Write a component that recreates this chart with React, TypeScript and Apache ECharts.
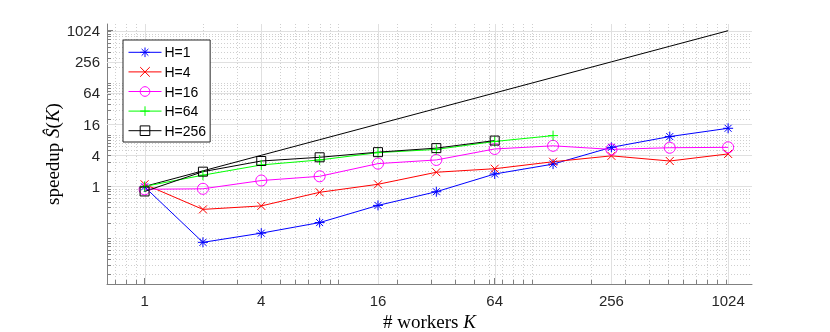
import React, { useEffect, useRef } from 'react';
import * as echarts from 'echarts';

// ---- data ----
const workers = [1, 2, 4, 8, 16, 32, 64, 128, 256, 512, 1024];
const seriesNames = ['H=1', 'H=4', 'H=16', 'H=64', 'H=256'];
const speedupH1 = [0.98, 0.083, 0.125, 0.2, 0.43, 0.79, 1.74, 2.7, 5.7, 9.2, 13.3];
const speedupH4 = [1.1, 0.36, 0.42, 0.77, 1.1, 1.88, 2.2, 3.0, 3.9, 3.1, 4.25];
const speedupH16 = [0.88, 0.9, 1.3, 1.57, 2.76, 3.25, 5.3, 6.1, 5.2, 5.6, 5.7];
const speedupH64 = [1.0, 1.65, 2.6, 3.25, 4.5, 5.2, 7.4, 9.6];
const speedupH256 = [0.8, 1.93, 3.1, 3.66, 4.6, 5.5, 7.7];
const idealSpeedup = [1, 2, 4, 8, 16, 32, 64, 128, 256, 512, 1024];

const xTickValues = [1, 4, 16, 64, 256, 1024];
const yTickValues = [1, 4, 16, 64, 256, 1024];
const xMinorValues = [
  0.7, 0.8, 0.9, 2, 3, 4, 5, 6, 7, 8, 9, 10, 20, 30, 40, 50, 60, 70, 80, 90,
  100, 200, 300, 400, 500, 600, 700, 800, 900, 1000,
];
const yMinorValues = [
  0.02, 0.03, 0.04, 0.05, 0.06, 0.07, 0.08, 0.09, 0.1, 0.2, 0.3, 0.4, 0.5, 0.6, 0.7,
  0.8, 0.9, 1, 2, 3, 4, 5, 6, 7, 8, 9, 10, 20, 30, 40, 50, 60, 70, 80, 90, 100, 200,
  300, 400, 500, 600, 700, 800, 900, 1000,
];
const xRange = [0.64, 1360];
const yRange = [0.013, 1380];

const colors = ['#0000ff', '#ff0000', '#ff00ff', '#00ff00', '#000000'];

const SYM_ASTERISK = 'path://M5 0L5 10M0 5L10 5M1.5 1.5L8.5 8.5M8.5 1.5L1.5 8.5';
const SYM_X = 'path://M0 0L10 10M10 0L0 10';
const SYM_PLUS = 'path://M5 0L5 10M0 5L10 5';
const symbols = [SYM_ASTERISK, SYM_X, 'circle', SYM_PLUS, 'rect'];
const symbolSizes = [10, 8, 11, 10, 9];
const allSpeedups = [speedupH1, speedupH4, speedupH16, speedupH64, speedupH256];

const L2 = (v: number) => Math.log2(v);
const AXIS_COLOR = '#808080';
const LABEL_COLOR = '#262626';
const SANS = 'Liberation Sans, Arial, sans-serif';
const SERIF = 'Liberation Serif, Times New Roman, serif';

const crisp = (v: number) => Math.round(v) + 0.5;

function gridLines(kind: 'v' | 'h', stroke: string, dash: number[] | null) {
  return (params: any, api: any) => {
    const cs = params.coordSys;
    if (kind === 'v') {
      const x = crisp(api.coord([api.value(0), api.value(1)])[0]);
      return {
        type: 'line',
        shape: { x1: x, y1: cs.y, x2: x, y2: cs.y + cs.height },
        style: { stroke, lineWidth: 1, lineDash: dash || undefined },
        silent: true,
      };
    }
    const y = crisp(api.coord([api.value(0), api.value(1)])[1]);
    return {
      type: 'line',
      shape: { x1: cs.x, y1: y, x2: cs.x + cs.width, y2: y },
      style: { stroke, lineWidth: 1, lineDash: dash || undefined },
      silent: true,
    };
  };
}

function minorTicks(kind: 'v' | 'h', len: number) {
  return (params: any, api: any) => {
    const cs = params.coordSys;
    if (kind === 'v') {
      const x = crisp(api.coord([api.value(0), api.value(1)])[0]);
      const yb = cs.y + cs.height;
      return {
        type: 'line',
        shape: { x1: x, y1: yb, x2: x, y2: yb - len },
        style: { stroke: AXIS_COLOR, lineWidth: 1 },
        silent: true,
      };
    }
    const y = crisp(api.coord([api.value(0), api.value(1)])[1]);
    return {
      type: 'line',
      shape: { x1: cs.x, y1: y, x2: cs.x + len, y2: y },
      style: { stroke: AXIS_COLOR, lineWidth: 1 },
      silent: true,
    };
  };
}

export default function App() {
  const ref = useRef<HTMLDivElement>(null);
  useEffect(() => {
    if (!ref.current) return;
    const chart = echarts.init(ref.current, null, { renderer: 'svg' });
    const xMin = L2(xRange[0]);
    const xMax = L2(xRange[1]);
    const yMin = L2(yRange[0]);
    const yMax = L2(yRange[1]);
    const fmt = (v: number) => String(Math.round(Math.pow(2, v)));

    const dataSeries = seriesNames.map((name, i) => ({
      name,
      type: 'line',
      data: allSpeedups[i].map((s, j) => [L2(workers[j]), L2(s)]),
      symbol: symbols[i],
      symbolSize: symbolSizes[i],
      showSymbol: true,
      lineStyle: { color: colors[i], width: 1 },
      itemStyle: { color: 'none', borderColor: colors[i], borderWidth: 1 },
      emphasis: { disabled: true },
      z: 3,
    }));

    const titleRich = {
      r: { fontFamily: SERIF, fontSize: 19, color: '#000' },
      i: { fontFamily: SERIF, fontSize: 19, fontStyle: 'italic', color: '#000' },
    };

    const option: any = {
      animation: false,
      grid: {
        left: 107,
        top: 24,
        width: 645,
        height: 260,
        containLabel: false,
        outerBoundsMode: 'none',
      },
      xAxis: {
        type: 'value',
        min: xMin,
        max: xMax,
        name: '{r|# workers }{i|K}',
        nameLocation: 'middle',
        nameGap: 28,
        nameMoveOverlap: false,
        nameTextStyle: { rich: titleRich },
        axisLine: { show: true, onZero: false, lineStyle: { color: AXIS_COLOR, width: 1 } },
        axisTick: {
          show: true,
          inside: true,
          length: 6,
          customValues: xTickValues.map(L2),
          lineStyle: { color: AXIS_COLOR },
        },
        axisLabel: {
          customValues: xTickValues.map(L2),
          formatter: fmt,
          fontFamily: SANS,
          fontSize: 15,
          color: LABEL_COLOR,
          margin: 9,
        },
        splitLine: { show: false },
      },
      yAxis: {
        type: 'value',
        min: yMin,
        max: yMax,
        name: '{r|speedup }{i|Ŝ}{r|(}{i|K}{r|)}',
        nameLocation: 'middle',
        nameGap: 45,
        nameMoveOverlap: false,
        nameTextStyle: { rich: titleRich },
        axisLine: { show: true, onZero: false, lineStyle: { color: AXIS_COLOR, width: 1 } },
        axisTick: {
          show: true,
          inside: true,
          length: 6,
          customValues: yTickValues.map(L2),
          lineStyle: { color: AXIS_COLOR },
        },
        axisLabel: {
          customValues: yTickValues.map(L2),
          formatter: fmt,
          fontFamily: SANS,
          fontSize: 15,
          color: LABEL_COLOR,
          margin: 7,
        },
        splitLine: { show: false },
      },
      legend: {
        data: seriesNames.map((name, i) => ({
          name,
          itemStyle: { color: 'none', borderColor: colors[i], borderWidth: 1 },
          lineStyle: { color: colors[i], width: 1 },
        })),
        orient: 'vertical',
        left: 123,
        top: 40,
        itemWidth: 33,
        itemHeight: 12,
        itemGap: 5,
        padding: [5, 4, 4, 5],
        backgroundColor: '#ffffff',
        borderColor: '#262626',
        borderWidth: 1,
        borderRadius: 0,
        selectedMode: false,
        textStyle: { fontFamily: SANS, fontSize: 14, color: '#000', padding: [0, 0, 0, -2] },
        z: 10,
      },
      series: [
        {
          type: 'custom',
          name: 'minorGridX',
          renderItem: gridLines('v', '#cfcfcf', [1, 2]),
          data: xMinorValues.map((v) => [L2(v), 0]),
          z: 0,
          silent: true,
        },
        {
          type: 'custom',
          name: 'minorGridY',
          renderItem: gridLines('h', '#cfcfcf', [1, 2]),
          data: yMinorValues.map((v) => [0, L2(v)]),
          z: 0,
          silent: true,
        },
        {
          type: 'custom',
          name: 'majorGridX',
          renderItem: gridLines('v', '#e0e0e0', null),
          data: xTickValues.map((v) => [L2(v), 0]),
          z: 1,
          silent: true,
        },
        {
          type: 'custom',
          name: 'majorGridY',
          renderItem: gridLines('h', '#e0e0e0', null),
          data: yTickValues.map((v) => [0, L2(v)]),
          z: 1,
          silent: true,
        },
        {
          type: 'custom',
          name: 'minorTickX',
          renderItem: minorTicks('v', 4),
          data: xMinorValues.map((v) => [L2(v), 0]),
          z: 1,
          silent: true,
        },
        {
          type: 'custom',
          name: 'minorTickY',
          renderItem: minorTicks('h', 4),
          data: yMinorValues.map((v) => [0, L2(v)]),
          z: 1,
          silent: true,
        },
        {
          name: 'ideal',
          type: 'line',
          data: idealSpeedup.map((s, j) => [L2(workers[j]), L2(s)]),
          symbol: 'none',
          lineStyle: { color: '#000000', width: 1 },
          emphasis: { disabled: true },
          z: 2,
        },
        ...dataSeries,
      ],
    };
    chart.setOption(option);
    return () => chart.dispose();
  }, []);
  return (
    <div
      ref={ref}
      style={{ position: 'fixed', left: 0, top: 0, width: 830, height: 332 }}
    />
  );
}
